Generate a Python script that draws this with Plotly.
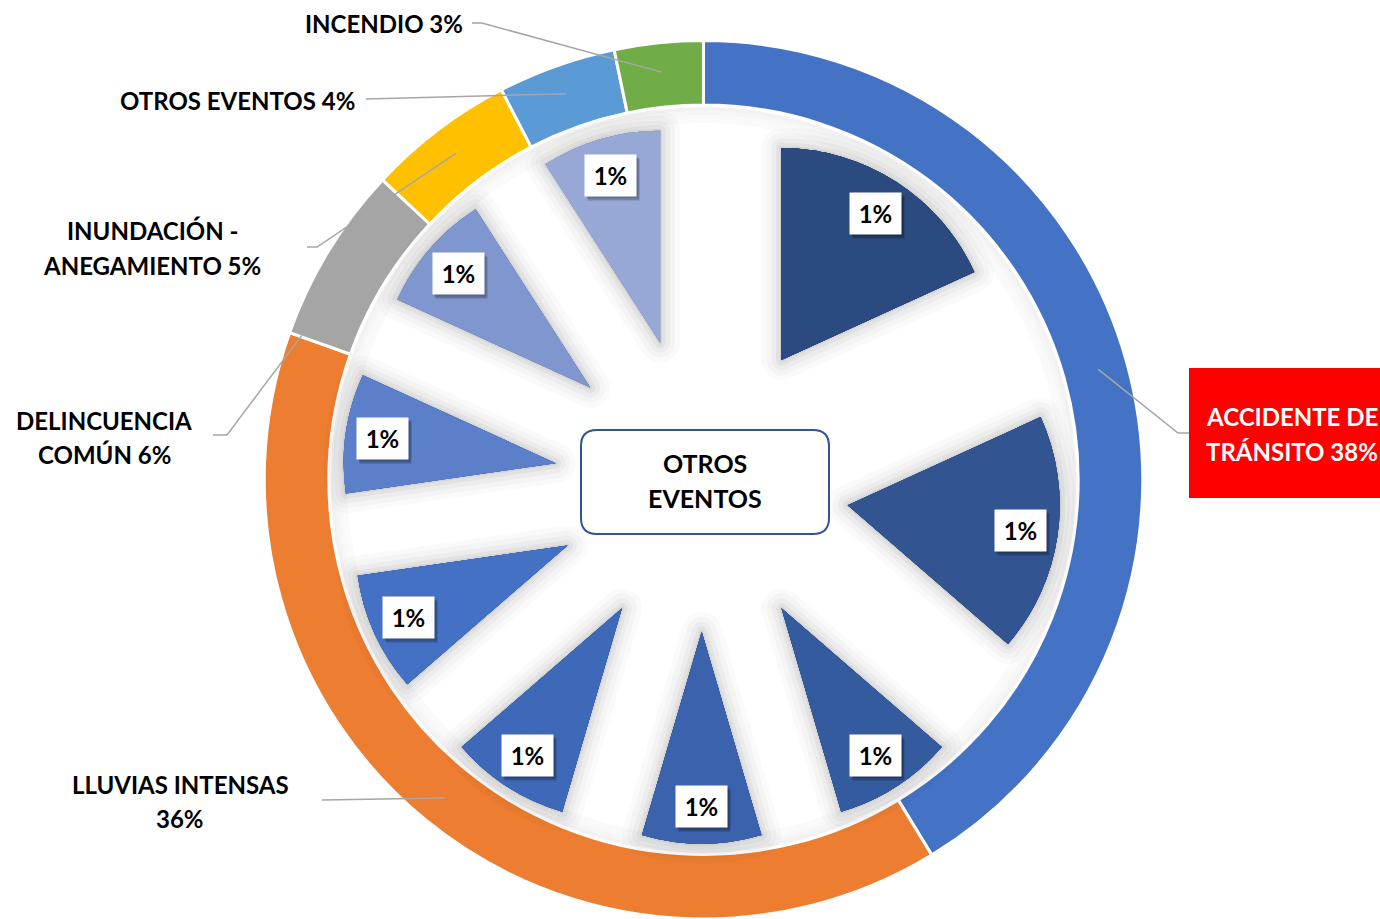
import math
import plotly.graph_objects as go

W, H = 1380, 919

# ---------------- data ----------------
outer_labels = ["ACCIDENTE DE TRÁNSITO", "LLUVIAS INTENSAS", "DELINCUENCIA COMÚN",
                "INUNDACIÓN - ANEGAMIENTO", "OTROS EVENTOS", "INCENDIO"]
outer_values = [38, 36, 6, 5, 4, 3]
outer_pct = ["38%", "36%", "6%", "5%", "4%", "3%"]
outer_colors = ["#4472C4", "#ED7D31", "#A5A5A5", "#FFC000", "#5B9BD5", "#70AD47"]

inner_labels = ["Evento A", "Evento B", "Evento C", "Evento D", "Evento E",
                "Evento F", "Evento G", "Evento H", "Evento I"]
inner_values = [2, 2, 1, 1, 1, 1, 1, 1, 1]
inner_text = ["1%", "1%", "1%", "1%", "1%", "1%", "1%", "1%", "1%"]
inner_colors = ["#2B4A80", "#325592", "#355B9F", "#3A62AD", "#3E69B8",
                "#4471C3", "#5B7FC9", "#7F96CE", "#97A8D6"]

center_title = ["OTROS", "EVENTOS"]

# ---------------- geometry (pixels) ----------------
RING_C = (703.5, 480.0)
RING_R = 439.5
RING_HOLE = 0.853
PIE_C = (701.7, 484.2)
PIE_R = 212.0
PIE_PULL = 147.5 / 212.0
FONT = "Lato"
LINE_GAP = 34


def P(x, y):
    return x / W, 1 - y / H


def polar_px(c, ang, r):
    a = math.radians(ang)
    return c[0] + r * math.sin(a), c[1] - r * math.cos(a)


def domain(c, half):
    x0, x1 = (c[0] - half) / W, (c[0] + half) / W
    y0, y1 = 1 - (c[1] + half) / H, 1 - (c[1] - half) / H
    return dict(x=[max(0, x0), min(1, x1)], y=[max(0, y0), min(1, y1)])


def slice_angles(values):
    tot = float(sum(values))
    out, acc = [], 0.0
    for v in values:
        a0 = acc / tot * 360
        acc += v
        a1 = acc / tot * 360
        out.append((a0, a1))
    return out


def ann(xp, yp, text, **kw):
    x, y = P(xp, yp)
    d = dict(x=x, y=y, xref="paper", yref="paper", text=text, showarrow=False,
             xanchor="center", yanchor="middle")
    d.update(kw)
    return d


fig = go.Figure()

# outer ring
fig.add_trace(go.Pie(
    labels=outer_labels, values=outer_values, sort=False, direction="clockwise",
    rotation=0, hole=RING_HOLE, textinfo="none", hoverinfo="skip",
    marker=dict(colors=outer_colors, line=dict(color="white", width=3)),
    domain=domain(RING_C, RING_R), showlegend=False,
))

# inner exploded pie: soft shadow layers + main
inner_dom = domain(PIE_C, PIE_R * (1 + PIE_PULL))
for w, a in [(40, 0.02), (30, 0.025), (20, 0.03), (11, 0.04), (4, 0.05)]:
    fig.add_trace(go.Pie(
        labels=inner_labels, values=inner_values, sort=False, direction="clockwise",
        rotation=0, pull=[PIE_PULL] * len(inner_values), textinfo="none", hoverinfo="skip",
        marker=dict(colors=inner_colors, line=dict(color=f"rgba(0,0,0,{a})", width=w)),
        domain=inner_dom, showlegend=False,
    ))
fig.add_trace(go.Pie(
    labels=inner_labels, values=inner_values, sort=False, direction="clockwise",
    rotation=0, pull=[PIE_PULL] * len(inner_values), textinfo="none", hoverinfo="skip",
    marker=dict(colors=inner_colors, line=dict(width=0)),
    domain=inner_dom, showlegend=False,
))

annotations = []
shapes = []

# soft shadow just inside the ring
inner_r = RING_R * RING_HOLE
for k, a in enumerate([0.05, 0.035, 0.025, 0.018]):
    rad = inner_r - 4 - k * 4
    x0, y0 = P(RING_C[0] - rad, RING_C[1] + rad)
    x1, y1 = P(RING_C[0] + rad, RING_C[1] - rad)
    shapes.append(dict(type="circle", xref="paper", yref="paper", x0=x0, y0=y0, x1=x1, y1=y1,
                       line=dict(color=f"rgba(0,0,0,{a})", width=4), layer="below"))

# inner labels (white boxes with shadow)
for (a0, a1), txt in zip(slice_angles(inner_values), inner_text):
    mx, my = polar_px(PIE_C, (a0 + a1) / 2, 322)
    annotations.append(ann(mx + 3, my + 4, " ", bgcolor="rgba(0,0,0,0.22)",
                           width=49, height=39, font=dict(size=22)))
    annotations.append(ann(mx + 1.5, my + 2, " ", bgcolor="rgba(0,0,0,0.15)",
                           width=49, height=39, font=dict(size=22)))
    annotations.append(ann(mx, my, f"<b>{txt}</b>", bgcolor="white", width=49, height=39,
                           font=dict(family=FONT, size=24, color="black")))

# outer labels with leader lines
label_pos = [
    dict(lines=["ACCIDENTE DE", "TRÁNSITO {p}"], c=(1292, 434), pts=[(1189, 433), (1178, 433)],
         f=0.5, r=410, color="white"),
    dict(lines=["LLUVIAS INTENSAS", "{p}"], c=(180, 801), pts=[(322, 800)], f=0.5, r=410),
    dict(lines=["DELINCUENCIA", "COMÚN {p}"], c=(104, 437), pts=[(213, 435), (227, 435)],
         f=0.01, r=427),
    dict(lines=["INUNDACIÓN -", "ANEGAMIENTO {p}"], c=(152, 248), pts=[(307, 247), (317, 247)],
         f=0.5, r=410),
    dict(lines=["OTROS EVENTOS {p}"], c=(237, 100), pts=[(366, 99)], f=0.5, r=410),
    dict(lines=["INCENDIO {p}"], c=(384, 24), pts=[(472, 23), (482, 23)], f=0.5, r=410),
]

# red box behind the main label
rx0, ry0 = P(1189, 368)
rx1, ry1 = P(1380, 498)
shapes.append(dict(type="rect", x0=rx0, y0=ry0, x1=rx1, y1=ry1, xref="paper", yref="paper",
                   fillcolor="#FF0000", line=dict(width=0), layer="above"))

for (a0, a1), lp, pct in zip(slice_angles(outer_values), label_pos, outer_pct):
    ex, ey = polar_px(RING_C, a0 + (a1 - a0) * lp["f"], lp["r"])
    pts = lp["pts"] + [(ex, ey)]
    path = ""
    for i, (px_, py_) in enumerate(pts):
        X, Y = P(px_, py_)
        path += ("M" if i == 0 else " L") + f"{X:.5f},{Y:.5f}"
    shapes.append(dict(type="path", path=path, xref="paper", yref="paper",
                       line=dict(color="#A6A6A6", width=1.5)))
    n = len(lp["lines"])
    for i, ln in enumerate(lp["lines"]):
        yy = lp["c"][1] + (i - (n - 1) / 2) * LINE_GAP
        annotations.append(ann(lp["c"][0], yy, "<b>" + ln.format(p=pct) + "</b>",
                               font=dict(family=FONT, size=24, color=lp.get("color", "black"))))

# center rounded box
bx0, by0, bx1, by1, rr = 581, 430, 829, 534, 16
segs = [("M", bx0 + rr, by0), ("L", bx1 - rr, by0), ("Q", bx1, by0, bx1, by0 + rr),
        ("L", bx1, by1 - rr), ("Q", bx1, by1, bx1 - rr, by1), ("L", bx0 + rr, by1),
        ("Q", bx0, by1, bx0, by1 - rr), ("L", bx0, by0 + rr), ("Q", bx0, by0, bx0 + rr, by0)]
path = ""
for seg in segs:
    coords = seg[1:]
    parts = []
    for i in range(0, len(coords), 2):
        X, Y = P(coords[i], coords[i + 1])
        parts.append(f"{X:.5f},{Y:.5f}")
    path += f"{seg[0]}{' '.join(parts)} "
path += "Z"
shapes.append(dict(type="path", path=path, xref="paper", yref="paper",
                   fillcolor="white", line=dict(color="#2F5597", width=2)))
for i, ln in enumerate(center_title):
    annotations.append(ann(705, 463 + i * 35, f"<b>{ln}</b>",
                           font=dict(family=FONT, size=25, color="black")))

fig.update_layout(
    width=W, height=H, margin=dict(l=0, r=0, t=0, b=0),
    paper_bgcolor="white", plot_bgcolor="white",
    shapes=shapes, annotations=annotations, font=dict(family=FONT),
)

fig.write_html("out.html", config={"displayModeBar": False},
               post_script="document.body.style.margin='0px';document.body.style.overflow='hidden';")
